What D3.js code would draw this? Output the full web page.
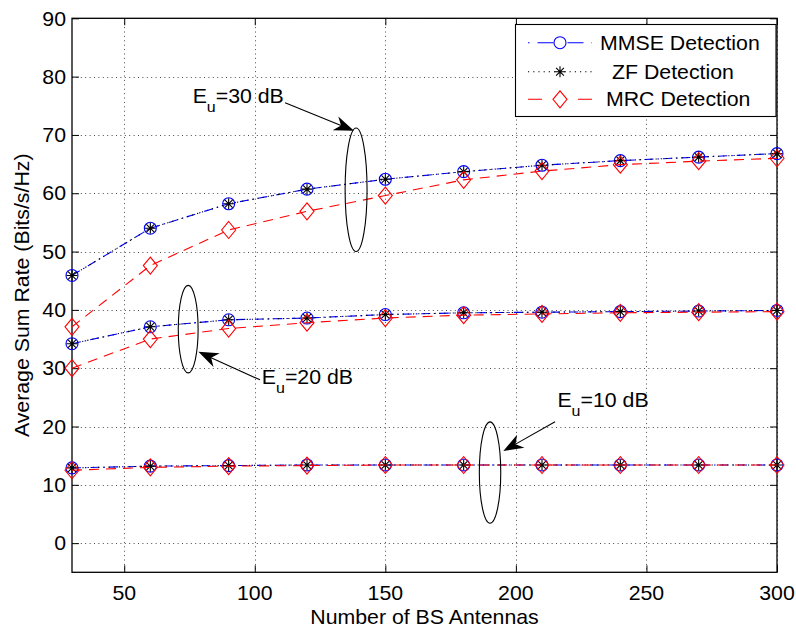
<!DOCTYPE html>
<html><head><meta charset="utf-8">
<script src="https://cdn.jsdelivr.net/npm/d3@7"></script>
<style>
html,body{margin:0;padding:0;background:#fff;}
svg text{font-family:"Liberation Sans",Arial,sans-serif;fill:#000;}
</style></head>
<body><svg id="c" width="796" height="630"></svg>
<script>
// ---- data ----
const antennas = [30, 60, 90, 120, 150, 180, 210, 240, 270, 300];
const mmse30 = [45.9, 54.0, 58.2, 60.7, 62.4, 63.7, 64.8, 65.6, 66.2, 66.8];
const zf30   = [45.9, 54.0, 58.2, 60.7, 62.4, 63.7, 64.8, 65.6, 66.2, 66.8];
const mrc30  = [37.1, 47.6, 53.7, 56.9, 59.6, 62.3, 63.8, 64.9, 65.5, 66.0];
const mmse20 = [34.2, 37.1, 38.3, 38.6, 39.2, 39.5, 39.6, 39.7, 39.8, 39.9];
const zf20   = [34.2, 37.1, 38.3, 38.6, 39.2, 39.5, 39.6, 39.7, 39.8, 39.9];
const mrc20  = [30.0, 35.0, 36.8, 37.8, 38.6, 39.1, 39.3, 39.5, 39.6, 39.7];
const mmse10 = [12.9, 13.2, 13.3, 13.4, 13.4, 13.4, 13.4, 13.4, 13.4, 13.4];
const zf10   = [12.9, 13.2, 13.3, 13.4, 13.4, 13.4, 13.4, 13.4, 13.4, 13.4];
const mrc10  = [12.5, 13.0, 13.2, 13.3, 13.4, 13.4, 13.4, 13.4, 13.4, 13.4];
const xTicks = [50, 100, 150, 200, 250, 300];
const yTicks = [0, 10, 20, 30, 40, 50, 60, 70, 80, 90];
const seriesNames = ["MMSE Detection", "ZF Detection", "MRC Detection"];
const xLabel = "Number of BS Antennas";
const yLabel = "Average Sum Rate (Bits/s/Hz)";
// annotations (data units): ellipse centre/radii, arrow from/to, label position
const annSNR = ["30", "20", "10"];
const annEllipse = [[138.8, 60.6, 4.2, 10.6], [74.5, 36.7, 3.8, 7.5], [190.1, 12.1, 4.1, 8.7]];
const annArrow = [[111.6, 75.5, 138.0, 70.7], [102.0, 28.0, 78.4, 32.8], [215.0, 20.8, 195.2, 15.8]];
const annText = [[76.2, 75.5], [102.7, 27.3], [215.9, 23.4]];

// ---- layout ----
const L = 72, R = 777, T = 18.3, B = 572.3;
const svg = d3.select("#c");
const x = d3.scaleLinear().domain([30, 300]).range([L, R]);
const y = d3.scaleLinear().domain([-5, 90]).range([B, T]);
const SX = 1.065; // horizontal stretch of fonts

function txt(g, str, px, py, anchor, size) {
  return g.append("g").attr("transform", `translate(${px},${py}) scale(${SX},1)`)
    .append("text").attr("text-anchor", anchor || "start").style("font-size", (size || 20) + "px").text(str);
}

// grid
const grid = svg.append("g").attr("stroke", "#000").attr("stroke-width", 1).attr("stroke-dasharray", "1,3.4").attr("opacity", 0.7);
xTicks.forEach(v => grid.append("line").attr("x1", Math.round(x(v)) + 0.5).attr("x2", Math.round(x(v)) + 0.5).attr("y1", T).attr("y2", B));
yTicks.forEach(v => grid.append("line").attr("y1", Math.round(y(v)) + 0.5).attr("y2", Math.round(y(v)) + 0.5).attr("x1", L).attr("x2", R));

// axes with inward ticks on all four sides
const axB = svg.append("g").attr("transform", `translate(0,${B})`)
  .call(d3.axisTop(x).tickValues(xTicks).tickSize(7).tickFormat(""));
const axT = svg.append("g").attr("transform", `translate(0,${T})`)
  .call(d3.axisBottom(x).tickValues(xTicks).tickSize(7).tickFormat(""));
const axL = svg.append("g").attr("transform", `translate(${L},0)`)
  .call(d3.axisRight(y).tickValues(yTicks).tickSize(7).tickFormat(""));
const axR = svg.append("g").attr("transform", `translate(${R},0)`)
  .call(d3.axisLeft(y).tickValues(yTicks).tickSize(7).tickFormat(""));
[axB, axT, axL, axR].forEach(a => { a.select(".domain").remove(); a.selectAll("line").attr("stroke", "#000"); });
svg.append("rect").attr("x", L).attr("y", T).attr("width", R - L).attr("height", B - T)
  .attr("fill", "none").attr("stroke", "#000").attr("stroke-width", 1.3);

// tick labels
const lab = svg.append("g");
xTicks.forEach(v => txt(lab, String(v), x(v), 599.5, "middle"));
yTicks.forEach(v => txt(lab, String(v), 66, y(v) + 7.2, "end"));
txt(lab, xLabel, (L + R) / 2, 624, "middle");
svg.append("g").attr("transform", `translate(29,${(T + B) / 2}) rotate(-90) scale(${SX},1)`)
  .append("text").attr("text-anchor", "middle").style("font-size", "20px").text(yLabel);

// marker drawers
function circle(g, px, py, col) {
  g.append("circle").attr("cx", px).attr("cy", py).attr("r", 6).attr("fill", "none").attr("stroke", col).attr("stroke-width", 1.1);
}
function star(g, px, py, col) {
  const a = 5.5, d = 3.9;
  g.append("path").attr("d", `M${px - a},${py}H${px + a}M${px},${py - a}V${py + a}M${px - d},${py - d}L${px + d},${py + d}M${px - d},${py + d}L${px + d},${py - d}`)
    .attr("stroke", col).attr("stroke-width", 1.1).attr("fill", "none");
}
function diamond(g, px, py, col) {
  g.append("path").attr("d", `M${px},${py - 8.5}L${px + 7},${py}L${px},${py + 8.5}L${px - 7},${py}Z`)
    .attr("fill", "none").attr("stroke", col).attr("stroke-width", 1.1);
}

const styles = [
  { col: "#0000ff", dash: "9,4,1.5,4", marker: circle, legend: "1.5,8,16,14,16,8,1.5" },
  { col: "#000000", dash: "1.2,4", marker: star, legend: "1.2,4" },
  { col: "#ff0000", dash: "10,7", marker: diamond, legend: "14,36,14" }
];
const groups = [[mmse30, zf30, mrc30], [mmse20, zf20, mrc20], [mmse10, zf10, mrc10]];
const line = d3.line().x((d, i) => x(antennas[i])).y(d => y(d));

const plot = svg.append("g");
[0, 1, 2].forEach(s => {
  groups.forEach(grp => {
    const vals = grp[s];
    plot.append("path").attr("d", line(vals)).attr("fill", "none")
      .attr("stroke", styles[s].col).attr("stroke-width", 1.1).attr("stroke-dasharray", styles[s].dash);
    vals.forEach((v, i) => styles[s].marker(plot, x(antennas[i]), y(v), styles[s].col));
  });
});

// annotations
const ann = svg.append("g");
annEllipse.forEach(e => {
  ann.append("ellipse").attr("cx", x(e[0])).attr("cy", y(e[1]))
    .attr("rx", x(e[0] + e[2]) - x(e[0])).attr("ry", y(e[1]) - y(e[1] + e[3]))
    .attr("fill", "none").attr("stroke", "#000").attr("stroke-width", 1.1);
});
annArrow.forEach(a => {
  const x1 = x(a[0]), y1 = y(a[1]), x2 = x(a[2]), y2 = y(a[3]);
  const ang = Math.atan2(y2 - y1, x2 - x1);
  const len = 20, w = 7.5, notch = 14;
  const bx = x2 - len * Math.cos(ang), by = y2 - len * Math.sin(ang);
  const nx = -Math.sin(ang), ny = Math.cos(ang);
  const mx = x2 - notch * Math.cos(ang), my = y2 - notch * Math.sin(ang);
  ann.append("line").attr("x1", x1).attr("y1", y1).attr("x2", mx).attr("y2", my).attr("stroke", "#000").attr("stroke-width", 1.1);
  ann.append("path").attr("d", `M${x2},${y2}L${bx + nx * w},${by + ny * w}L${mx},${my}L${bx - nx * w},${by - ny * w}Z`).attr("fill", "#000");
});
annText.forEach((p, k) => {
  const g = ann.append("g").attr("transform", `translate(${x(p[0])},${y(p[1])}) scale(${SX},1)`);
  const t = g.append("text").style("font-size", "20px");
  t.append("tspan").text("E");
  t.append("tspan").attr("dy", 9).style("font-size", "15px").text("u");
  t.append("tspan").attr("dy", -9).text("=" + annSNR[k] + " dB");
});

// legend
const lg = svg.append("g");
lg.append("rect").attr("x", 515.5).attr("y", 24.5).attr("width", 260.5).attr("height", 92)
  .attr("fill", "#fff").attr("stroke", "#000").attr("stroke-width", 1.1);
const rowsY = [42.7, 71.7, 99.3];
const textX = [600, 612, 606];
[0, 1, 2].forEach(s => {
  lg.append("line").attr("x1", 528).attr("x2", 592).attr("y1", rowsY[s]).attr("y2", rowsY[s])
    .attr("stroke", styles[s].col).attr("stroke-width", 1.1).attr("stroke-dasharray", styles[s].legend);
  styles[s].marker(lg, 560, rowsY[s], styles[s].col);
  txt(lg, seriesNames[s], textX[s], rowsY[s] + 7, "start");
});
</script></body></html>
